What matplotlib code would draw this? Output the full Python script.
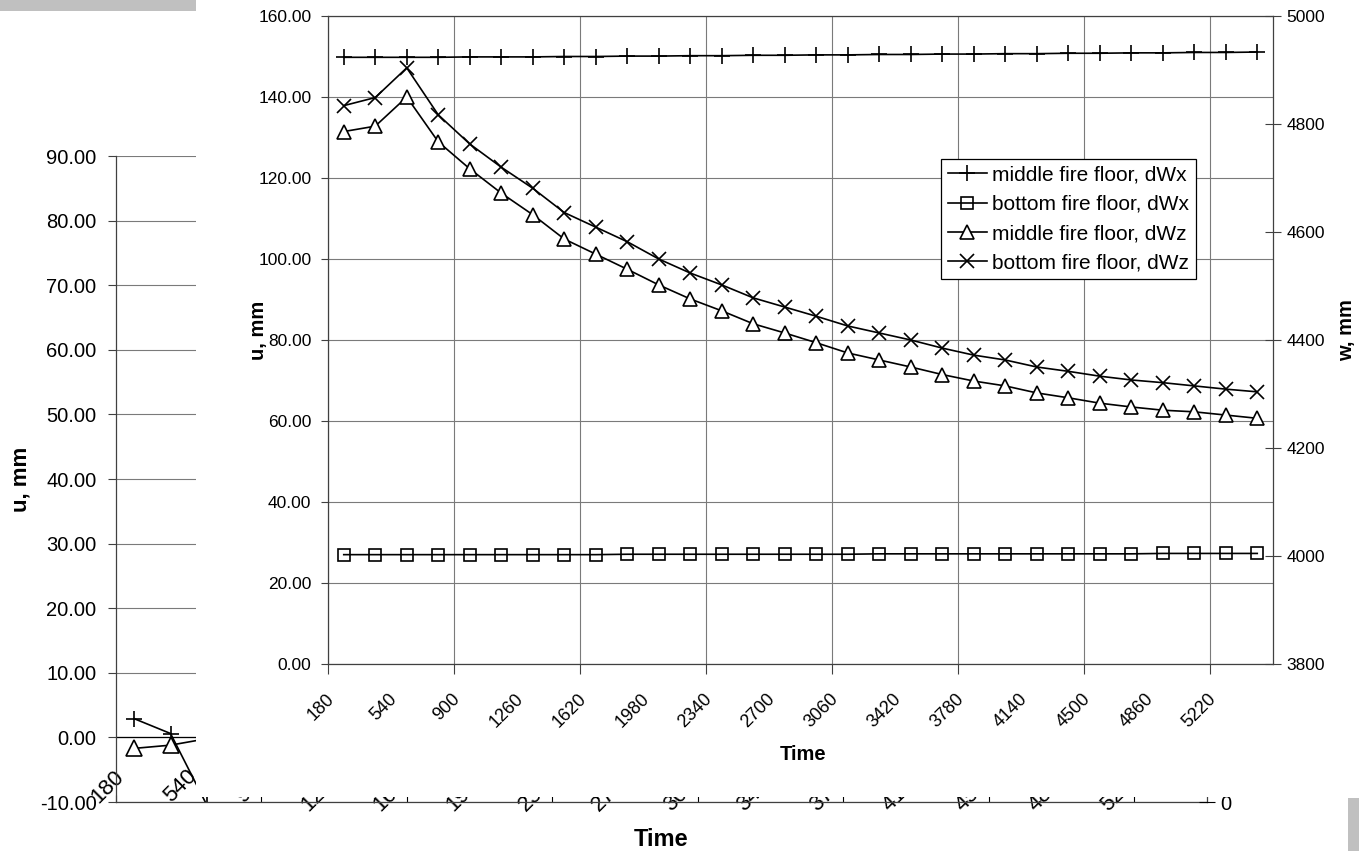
import matplotlib.pyplot as plt
from matplotlib.patches import Rectangle
from matplotlib.transforms import ScaledTranslation

plt.rcParams['font.family'] = ['Liberation Sans', 'DejaVu Sans']

# categories (time steps, s)
time_steps = [180, 360, 540, 720, 900, 1080, 1260, 1440, 1620, 1800,
              1980, 2160, 2340, 2520, 2700, 2880, 3060, 3240, 3420, 3600,
              3780, 3960, 4140, 4320, 4500, 4680, 4860, 5040, 5220, 5400]

# front chart, u axis (mm)
mid_dwx = [149.8, 149.8, 149.8, 149.8, 149.9, 149.9, 149.9, 150.0, 150.0, 150.1,
           150.1, 150.2, 150.2, 150.3, 150.3, 150.4, 150.4, 150.5, 150.5, 150.6,
           150.6, 150.7, 150.7, 150.8, 150.8, 150.9, 150.9, 151.0, 151.0, 151.1]
bot_dwx = [27.0, 27.0, 27.0, 27.0, 27.0, 27.0, 27.0, 27.0, 27.0, 27.1,
           27.1, 27.1, 27.1, 27.1, 27.1, 27.1, 27.1, 27.2, 27.2, 27.2,
           27.2, 27.2, 27.2, 27.2, 27.2, 27.2, 27.3, 27.3, 27.3, 27.3]
# front chart, w axis (mm)
mid_dwz = [4786, 4796, 4850, 4767, 4717, 4672, 4632, 4587, 4559, 4531,
           4502, 4476, 4454, 4430, 4413, 4395, 4376, 4363, 4350, 4336,
           4324, 4315, 4302, 4293, 4283, 4276, 4270, 4267, 4261, 4255]
bot_dwz = [4834, 4849, 4904, 4817, 4763, 4720, 4681, 4636, 4609, 4582,
           4550, 4524, 4502, 4478, 4461, 4444, 4426, 4413, 4400, 4385,
           4372, 4363, 4350, 4342, 4333, 4326, 4321, 4315, 4309, 4304]

# chart behind (only its first points are visible)
bg_mid_dwx = [2.9, 0.6, -10.5]
bg_mid_dwz = [-1.7, -1.2, -0.2]

labels = ['middle fire floor, dWx', 'bottom fire floor, dWx',
          'middle fire floor, dWz', 'bottom fire floor, dWz']

W, H = 1359, 851
fig = plt.figure(figsize=(W / 100, H / 100), dpi=100)
fig.patch.set_facecolor('white')

GRID = '#7a7a7a'
SPINE = '#404040'
idx = list(range(len(time_steps)))

# ---------------- background chart ----------------
ax_bg = fig.add_axes([116 / W, 1 - 802 / H, 1091 / W, 646 / H], zorder=0)
ax_bg.set_xlim(-0.5, len(time_steps) - 0.5)
ax_bg.set_ylim(-10, 90)
yt = list(range(-10, 91, 10))
ax_bg.set_yticks(yt)
ax_bg.set_yticklabels([f'{v:.2f}' for v in yt], fontsize=14.5)
ax_bg.yaxis.grid(True, color=GRID, lw=0.8)
ax_bg.set_axisbelow(True)
ax_bg.axhline(0, color='black', lw=0.9)
ax_bg.tick_params(axis='y', length=6, width=0.8, color=SPINE, pad=8)
ax_bg.set_xticks(idx[::2])
ax_bg.set_xticklabels([str(t) for t in time_steps[::2]], fontsize=16,
                      rotation=45, ha='right', va='top')
ax_bg.set_xticks([i - 0.5 for i in idx[::4]], minor=True)
ax_bg.tick_params(axis='x', which='major', length=0, pad=-26)
ax_bg.tick_params(axis='x', which='minor', direction='in', length=5, width=0.8)
for lbl in ax_bg.get_xticklabels():
    lbl.set_transform(lbl.get_transform() + ScaledTranslation(-0.06, 0, fig.dpi_scale_trans))
for s in ['left', 'bottom', 'right']:
    ax_bg.spines[s].set_color(SPINE)
    ax_bg.spines[s].set_linewidth(0.9)
ax_bg.spines['top'].set_visible(False)

ax_bg.plot(idx[:3], bg_mid_dwx, color='black', lw=1.2, marker='+', ms=12, mew=1.2)
ax_bg.plot(idx[:3], bg_mid_dwz, color='black', lw=1.2, marker='^', ms=11,
           mfc='white', mew=1.2)

ax_bg.set_ylabel('u, mm', fontsize=16, fontweight='bold')
ax_bg.yaxis.set_label_coords(-0.077, 0.5)
ax_bg.set_xlabel('Time', fontsize=17, fontweight='bold')
ax_bg.xaxis.set_label_coords(0.5, -0.040)

ax_bg2 = ax_bg.twinx()
ax_bg2.set_ylim(0, 1)
ax_bg2.set_yticks([0])
ax_bg2.set_yticklabels(['0'], fontsize=14.5)
ax_bg2.tick_params(axis='y', direction='inout', length=11, width=0.8, pad=4)
for s in ax_bg2.spines.values():
    s.set_visible(False)

# white chart area of the front chart
fig.add_artist(Rectangle((196 / W, 1 - 797 / H), (1348 - 196) / W, 797 / H,
                         transform=fig.transFigure, facecolor='white',
                         edgecolor='none', zorder=1))

# ---------------- front chart ----------------
ax = fig.add_axes([328 / W, 1 - 664 / H, 945 / W, 648 / H], zorder=2)
ax.set_facecolor('white')
ax.set_xlim(-0.5, len(time_steps) - 0.5)
ax.set_ylim(0, 160)
yt = list(range(0, 161, 20))
ax.set_yticks(yt)
ax.set_yticklabels([f'{v:.2f}' for v in yt], fontsize=12.5)
ax.tick_params(axis='y', length=5, width=0.8, color=SPINE, pad=7)
ax.set_xticks(idx[::2])
ax.set_xticklabels([str(t) for t in time_steps[::2]], fontsize=13,
                   rotation=45, ha='right', va='top')
ax.set_xticks([i - 0.5 for i in idx[::4]], minor=True)
ax.tick_params(axis='x', which='major', length=0, pad=19)
ax.tick_params(axis='x', which='minor', length=7, width=0.8, color=SPINE)
for lbl in ax.get_xticklabels():
    lbl.set_transform(lbl.get_transform() + ScaledTranslation(-0.06, 0, fig.dpi_scale_trans))
ax.yaxis.grid(True, color=GRID, lw=0.8)
ax.xaxis.grid(True, which='minor', color=GRID, lw=0.8)
ax.set_axisbelow(True)
for s in ax.spines.values():
    s.set_color(SPINE)
    s.set_linewidth(0.9)

ax2 = ax.twinx()
ax2.set_zorder(3)
ax2.set_ylim(3800, 5000)
ax2.set_yticks(list(range(3800, 5001, 200)))
ax2.set_yticklabels([str(v) for v in range(3800, 5001, 200)], fontsize=12.5)
ax2.tick_params(axis='y', direction='inout', length=11, width=0.8, color=SPINE, pad=4)
for s in ax2.spines.values():
    s.set_visible(False)

h1, = ax.plot(idx, mid_dwx, color='black', lw=1.2, marker='+', ms=12, mew=1.2)
h2, = ax.plot(idx, bot_dwx, color='black', lw=1.2, marker='s', ms=8, mfc='none', mew=1.2)
h3, = ax2.plot(idx, mid_dwz, color='black', lw=1.2, marker='^', ms=10, mfc='white', mew=1.2)
h4, = ax2.plot(idx, bot_dwz, color='black', lw=1.2, marker='x', ms=10, mew=1.2)

leg = ax2.legend([h1, h2, h3, h4], labels, loc='upper left',
                 bbox_to_anchor=(0.649, 0.779), fontsize=15, frameon=True,
                 fancybox=False, framealpha=1, edgecolor='black',
                 handlelength=1.9, handletextpad=0.25, labelspacing=0.5,
                 borderpad=0.3, borderaxespad=0)
leg.get_frame().set_linewidth(0.9)

ax.set_ylabel('u, mm', fontsize=14.5, fontweight='bold')
ax.yaxis.set_label_coords(-0.064, 0.515)
ax.set_xlabel('Time', fontsize=14.5, fontweight='bold')
ax.xaxis.set_label_coords(0.5026, -0.125)
ax2.set_ylabel('w, mm', fontsize=14.5, fontweight='bold', rotation=90)
ax2.yaxis.set_label_coords(1.068, 0.515)

# grey strips at the edges
fig.add_artist(Rectangle((0, 1 - 11 / H), 196 / W, 11 / H, transform=fig.transFigure,
                         facecolor='#c0c0c0', edgecolor='none', zorder=4))
fig.add_artist(Rectangle((1348 / W, 0), 11 / W, 53 / H, transform=fig.transFigure,
                         facecolor='#c0c0c0', edgecolor='none', zorder=4))

fig.savefig('out.png', dpi=100, facecolor='white')
